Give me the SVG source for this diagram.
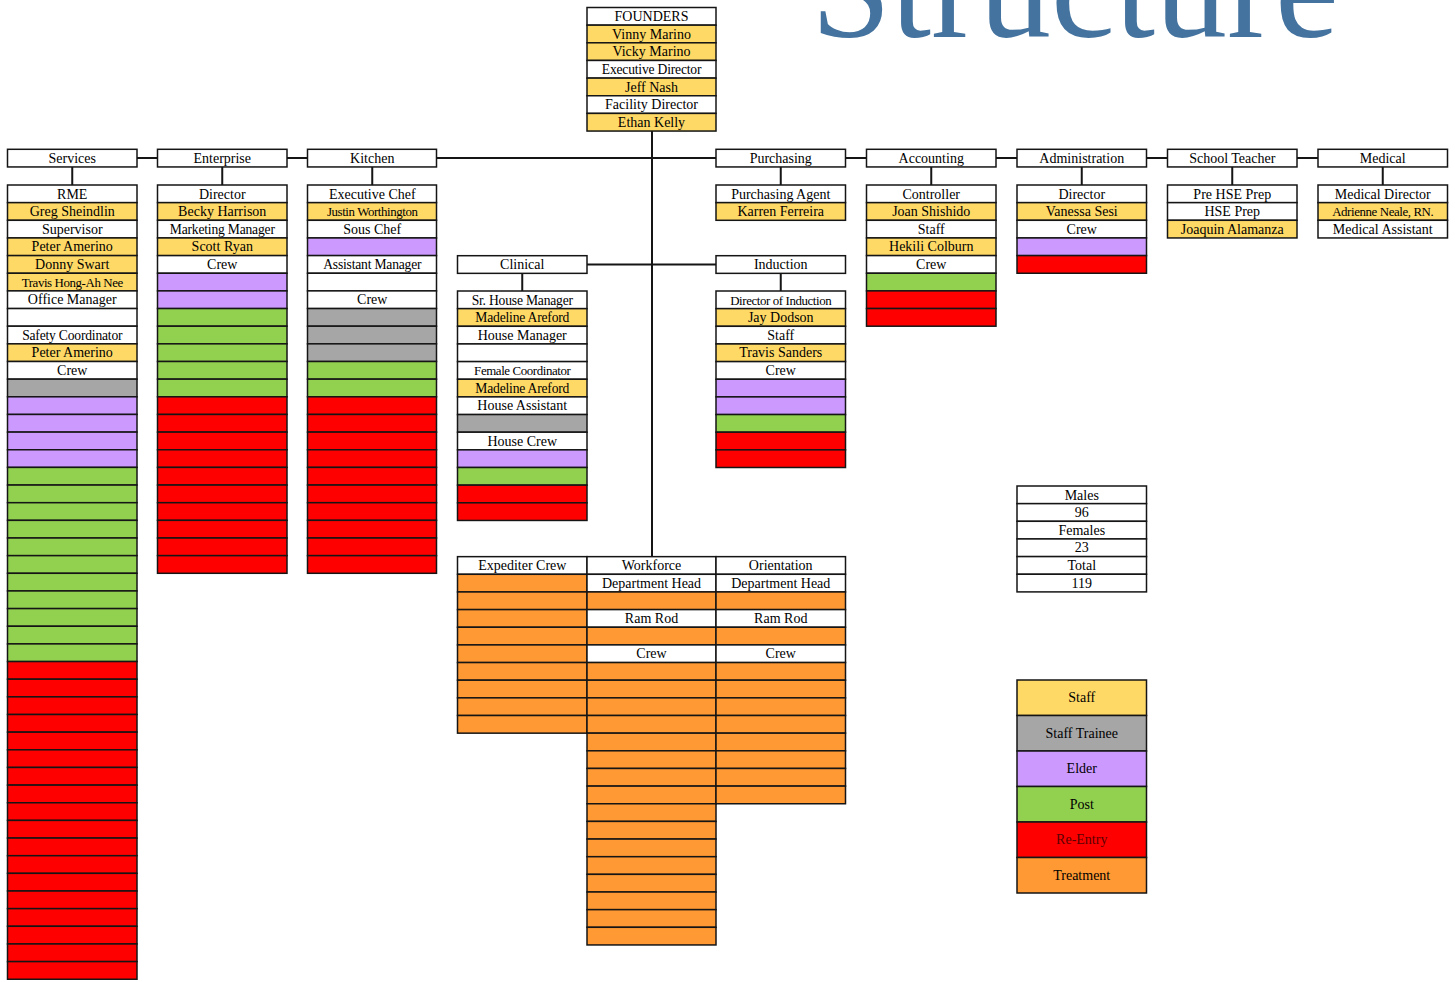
<svg xmlns="http://www.w3.org/2000/svg" width="1455" height="982" viewBox="0 0 1455 982">
<style>
rect{stroke:#151515;stroke-width:1.5}
.w{fill:#fff}.y{fill:#FFD966}.s{fill:#A6A6A6}.e{fill:#CC99FF}.p{fill:#92D050}.r{fill:#FF0000}.o{fill:#FF9933}
text{font-family:"Liberation Serif","Times New Roman",serif;font-size:14px;text-anchor:middle;fill:#000}
.sm{font-size:12.9px;letter-spacing:-0.4px}.md{font-size:13.6px;letter-spacing:-0.2px}
.ln{stroke:#151515;stroke-width:2;fill:none}
.title{font-size:144px;fill:#44739F;text-anchor:start}
</style>
<text class="title" x="811" y="37">Structure</text>

<g id="connectors">
<path class="ln" d="M652 131V557"/>
<path class="ln" d="M436 158H716"/>
<path class="ln" d="M137 158H157.5M287 158H307.5M845 158H866.5M996 158H1017M1146.5 158H1167.5M1297 158H1318"/>
<path class="ln" d="M72.25 167V185M222.25 167V185M372.25 167V185M780.75 167V185M931.25 167V185M1081.75 167V185M1232.25 167V185M1382.75 167V185"/>
<path class="ln" d="M587 264.5H716"/>
<path class="ln" d="M522.25 273.3V291M780.75 273.3V291"/>
</g>

<g id="founders">
<rect class="w" x="587" y="7.5" width="129" height="17.65"/><text x="651.5" y="21">FOUNDERS</text>
<rect class="y" x="587" y="25.15" width="129" height="17.65"/><text x="651.5" y="38.65">Vinny Marino</text>
<rect class="y" x="587" y="42.8" width="129" height="17.65"/><text x="651.5" y="56.3">Vicky Marino</text>
<rect class="w" x="587" y="60.45" width="129" height="17.65"/><text class="md" x="651.5" y="73.95">Executive Director</text>
<rect class="y" x="587" y="78.1" width="129" height="17.65"/><text x="651.5" y="91.6">Jeff Nash</text>
<rect class="w" x="587" y="95.75" width="129" height="17.65"/><text x="651.5" y="109.25">Facility Director</text>
<rect class="y" x="587" y="113.4" width="129" height="17.65"/><text x="651.5" y="126.9">Ethan Kelly</text>
</g>

<g id="services">
<rect class="w" x="7.5" y="149.3" width="129.5" height="17.65"/><text x="72.25" y="162.8">Services</text>
<rect class="w" x="7.5" y="185" width="129.5" height="17.65"/><text x="72.25" y="198.5">RME</text>
<rect class="y" x="7.5" y="202.65" width="129.5" height="17.65"/><text x="72.25" y="216.15">Greg Sheindlin</text>
<rect class="w" x="7.5" y="220.3" width="129.5" height="17.65"/><text x="72.25" y="233.8">Supervisor</text>
<rect class="y" x="7.5" y="237.95" width="129.5" height="17.65"/><text x="72.25" y="251.45">Peter Amerino</text>
<rect class="y" x="7.5" y="255.6" width="129.5" height="17.65"/><text x="72.25" y="269.1">Donny Swart</text>
<rect class="y" x="7.5" y="273.25" width="129.5" height="17.65"/><text class="sm" x="72.25" y="286.75">Travis Hong-Ah Nee</text>
<rect class="w" x="7.5" y="290.9" width="129.5" height="17.65"/><text x="72.25" y="304.4">Office Manager</text>
<rect class="w" x="7.5" y="308.55" width="129.5" height="17.65"/>
<rect class="w" x="7.5" y="326.2" width="129.5" height="17.65"/><text class="md" x="72.25" y="339.7">Safety Coordinator</text>
<rect class="y" x="7.5" y="343.85" width="129.5" height="17.65"/><text x="72.25" y="357.35">Peter Amerino</text>
<rect class="w" x="7.5" y="361.5" width="129.5" height="17.65"/><text x="72.25" y="375">Crew</text>
<rect class="s" x="7.5" y="379.15" width="129.5" height="17.65"/>
<rect class="e" x="7.5" y="396.8" width="129.5" height="17.65"/>
<rect class="e" x="7.5" y="414.45" width="129.5" height="17.65"/>
<rect class="e" x="7.5" y="432.1" width="129.5" height="17.65"/>
<rect class="e" x="7.5" y="449.75" width="129.5" height="17.65"/>
<rect class="p" x="7.5" y="467.4" width="129.5" height="17.65"/>
<rect class="p" x="7.5" y="485.05" width="129.5" height="17.65"/>
<rect class="p" x="7.5" y="502.7" width="129.5" height="17.65"/>
<rect class="p" x="7.5" y="520.35" width="129.5" height="17.65"/>
<rect class="p" x="7.5" y="538" width="129.5" height="17.65"/>
<rect class="p" x="7.5" y="555.65" width="129.5" height="17.65"/>
<rect class="p" x="7.5" y="573.3" width="129.5" height="17.65"/>
<rect class="p" x="7.5" y="590.95" width="129.5" height="17.65"/>
<rect class="p" x="7.5" y="608.6" width="129.5" height="17.65"/>
<rect class="p" x="7.5" y="626.25" width="129.5" height="17.65"/>
<rect class="p" x="7.5" y="643.9" width="129.5" height="17.65"/>
<rect class="r" x="7.5" y="661.55" width="129.5" height="17.65"/>
<rect class="r" x="7.5" y="679.2" width="129.5" height="17.65"/>
<rect class="r" x="7.5" y="696.85" width="129.5" height="17.65"/>
<rect class="r" x="7.5" y="714.5" width="129.5" height="17.65"/>
<rect class="r" x="7.5" y="732.15" width="129.5" height="17.65"/>
<rect class="r" x="7.5" y="749.8" width="129.5" height="17.65"/>
<rect class="r" x="7.5" y="767.45" width="129.5" height="17.65"/>
<rect class="r" x="7.5" y="785.1" width="129.5" height="17.65"/>
<rect class="r" x="7.5" y="802.75" width="129.5" height="17.65"/>
<rect class="r" x="7.5" y="820.4" width="129.5" height="17.65"/>
<rect class="r" x="7.5" y="838.05" width="129.5" height="17.65"/>
<rect class="r" x="7.5" y="855.7" width="129.5" height="17.65"/>
<rect class="r" x="7.5" y="873.35" width="129.5" height="17.65"/>
<rect class="r" x="7.5" y="891" width="129.5" height="17.65"/>
<rect class="r" x="7.5" y="908.65" width="129.5" height="17.65"/>
<rect class="r" x="7.5" y="926.3" width="129.5" height="17.65"/>
<rect class="r" x="7.5" y="943.95" width="129.5" height="17.65"/>
<rect class="r" x="7.5" y="961.6" width="129.5" height="17.65"/>
</g>

<g id="enterprise">
<rect class="w" x="157.5" y="149.3" width="129.5" height="17.65"/><text x="222.25" y="162.8">Enterprise</text>
<rect class="w" x="157.5" y="185" width="129.5" height="17.65"/><text x="222.25" y="198.5">Director</text>
<rect class="y" x="157.5" y="202.65" width="129.5" height="17.65"/><text x="222.25" y="216.15">Becky Harrison</text>
<rect class="w" x="157.5" y="220.3" width="129.5" height="17.65"/><text class="md" x="222.25" y="233.8">Marketing Manager</text>
<rect class="y" x="157.5" y="237.95" width="129.5" height="17.65"/><text x="222.25" y="251.45">Scott Ryan</text>
<rect class="w" x="157.5" y="255.6" width="129.5" height="17.65"/><text x="222.25" y="269.1">Crew</text>
<rect class="e" x="157.5" y="273.25" width="129.5" height="17.65"/>
<rect class="e" x="157.5" y="290.9" width="129.5" height="17.65"/>
<rect class="p" x="157.5" y="308.55" width="129.5" height="17.65"/>
<rect class="p" x="157.5" y="326.2" width="129.5" height="17.65"/>
<rect class="p" x="157.5" y="343.85" width="129.5" height="17.65"/>
<rect class="p" x="157.5" y="361.5" width="129.5" height="17.65"/>
<rect class="p" x="157.5" y="379.15" width="129.5" height="17.65"/>
<rect class="r" x="157.5" y="396.8" width="129.5" height="17.65"/>
<rect class="r" x="157.5" y="414.45" width="129.5" height="17.65"/>
<rect class="r" x="157.5" y="432.1" width="129.5" height="17.65"/>
<rect class="r" x="157.5" y="449.75" width="129.5" height="17.65"/>
<rect class="r" x="157.5" y="467.4" width="129.5" height="17.65"/>
<rect class="r" x="157.5" y="485.05" width="129.5" height="17.65"/>
<rect class="r" x="157.5" y="502.7" width="129.5" height="17.65"/>
<rect class="r" x="157.5" y="520.35" width="129.5" height="17.65"/>
<rect class="r" x="157.5" y="538" width="129.5" height="17.65"/>
<rect class="r" x="157.5" y="555.65" width="129.5" height="17.65"/>
</g>

<g id="kitchen">
<rect class="w" x="307.5" y="149.3" width="129" height="17.65"/><text x="372.25" y="162.8">Kitchen</text>
<rect class="w" x="307.5" y="185" width="129" height="17.65"/><text x="372.25" y="198.5">Executive Chef</text>
<rect class="y" x="307.5" y="202.65" width="129" height="17.65"/><text class="sm" x="372.25" y="216.15">Justin Worthington</text>
<rect class="w" x="307.5" y="220.3" width="129" height="17.65"/><text x="372.25" y="233.8">Sous Chef</text>
<rect class="e" x="307.5" y="237.95" width="129" height="17.65"/>
<rect class="w" x="307.5" y="255.6" width="129" height="17.65"/><text class="md" x="372.25" y="269.1">Assistant Manager</text>
<rect class="w" x="307.5" y="273.25" width="129" height="17.65"/>
<rect class="w" x="307.5" y="290.9" width="129" height="17.65"/><text x="372.25" y="304.4">Crew</text>
<rect class="s" x="307.5" y="308.55" width="129" height="17.65"/>
<rect class="s" x="307.5" y="326.2" width="129" height="17.65"/>
<rect class="s" x="307.5" y="343.85" width="129" height="17.65"/>
<rect class="p" x="307.5" y="361.5" width="129" height="17.65"/>
<rect class="p" x="307.5" y="379.15" width="129" height="17.65"/>
<rect class="r" x="307.5" y="396.8" width="129" height="17.65"/>
<rect class="r" x="307.5" y="414.45" width="129" height="17.65"/>
<rect class="r" x="307.5" y="432.1" width="129" height="17.65"/>
<rect class="r" x="307.5" y="449.75" width="129" height="17.65"/>
<rect class="r" x="307.5" y="467.4" width="129" height="17.65"/>
<rect class="r" x="307.5" y="485.05" width="129" height="17.65"/>
<rect class="r" x="307.5" y="502.7" width="129" height="17.65"/>
<rect class="r" x="307.5" y="520.35" width="129" height="17.65"/>
<rect class="r" x="307.5" y="538" width="129" height="17.65"/>
<rect class="r" x="307.5" y="555.65" width="129" height="17.65"/>
</g>

<g id="purchasing">
<rect class="w" x="716" y="149.3" width="129.5" height="17.65"/><text x="780.75" y="162.8">Purchasing</text>
<rect class="w" x="716" y="185" width="129.5" height="17.65"/><text x="780.75" y="198.5">Purchasing Agent</text>
<rect class="y" x="716" y="202.65" width="129.5" height="17.65"/><text x="780.75" y="216.15">Karren Ferreira</text>
</g>

<g id="accounting">
<rect class="w" x="866.5" y="149.3" width="129.5" height="17.65"/><text x="931.25" y="162.8">Accounting</text>
<rect class="w" x="866.5" y="185" width="129.5" height="17.65"/><text x="931.25" y="198.5">Controller</text>
<rect class="y" x="866.5" y="202.65" width="129.5" height="17.65"/><text x="931.25" y="216.15">Joan Shishido</text>
<rect class="w" x="866.5" y="220.3" width="129.5" height="17.65"/><text x="931.25" y="233.8">Staff</text>
<rect class="y" x="866.5" y="237.95" width="129.5" height="17.65"/><text x="931.25" y="251.45">Hekili Colburn</text>
<rect class="w" x="866.5" y="255.6" width="129.5" height="17.65"/><text x="931.25" y="269.1">Crew</text>
<rect class="p" x="866.5" y="273.25" width="129.5" height="17.65"/>
<rect class="r" x="866.5" y="290.9" width="129.5" height="17.65"/>
<rect class="r" x="866.5" y="308.55" width="129.5" height="17.65"/>
</g>

<g id="administration">
<rect class="w" x="1017" y="149.3" width="129.5" height="17.65"/><text x="1081.75" y="162.8">Administration</text>
<rect class="w" x="1017" y="185" width="129.5" height="17.65"/><text x="1081.75" y="198.5">Director</text>
<rect class="y" x="1017" y="202.65" width="129.5" height="17.65"/><text x="1081.75" y="216.15">Vanessa Sesi</text>
<rect class="w" x="1017" y="220.3" width="129.5" height="17.65"/><text x="1081.75" y="233.8">Crew</text>
<rect class="e" x="1017" y="237.95" width="129.5" height="17.65"/>
<rect class="r" x="1017" y="255.6" width="129.5" height="17.65"/>
</g>

<g id="school-teacher">
<rect class="w" x="1167.5" y="149.3" width="129.5" height="17.65"/><text x="1232.25" y="162.8">School Teacher</text>
<rect class="w" x="1167.5" y="185" width="129.5" height="17.65"/><text x="1232.25" y="198.5">Pre HSE Prep</text>
<rect class="w" x="1167.5" y="202.65" width="129.5" height="17.65"/><text x="1232.25" y="216.15">HSE Prep</text>
<rect class="y" x="1167.5" y="220.3" width="129.5" height="17.65"/><text x="1232.25" y="233.8">Joaquin Alamanza</text>
</g>

<g id="medical">
<rect class="w" x="1318" y="149.3" width="129.5" height="17.65"/><text x="1382.75" y="162.8">Medical</text>
<rect class="w" x="1318" y="185" width="129.5" height="17.65"/><text x="1382.75" y="198.5">Medical Director</text>
<rect class="y" x="1318" y="202.65" width="129.5" height="17.65"/><text class="sm" x="1382.75" y="216.15">Adrienne Neale, RN.</text>
<rect class="w" x="1318" y="220.3" width="129.5" height="17.65"/><text x="1382.75" y="233.8">Medical Assistant</text>
</g>

<g id="clinical">
<rect class="w" x="457.5" y="255.7" width="129.5" height="17.65"/><text x="522.25" y="269.2">Clinical</text>
<rect class="w" x="457.5" y="291" width="129.5" height="17.65"/><text class="md" x="522.25" y="304.5">Sr. House Manager</text>
<rect class="y" x="457.5" y="308.65" width="129.5" height="17.65"/><text class="md" x="522.25" y="322.15">Madeline Areford</text>
<rect class="w" x="457.5" y="326.3" width="129.5" height="17.65"/><text x="522.25" y="339.8">House Manager</text>
<rect class="w" x="457.5" y="343.95" width="129.5" height="17.65"/>
<rect class="w" x="457.5" y="361.6" width="129.5" height="17.65"/><text class="sm" x="522.25" y="375.1">Female Coordinator</text>
<rect class="y" x="457.5" y="379.25" width="129.5" height="17.65"/><text class="md" x="522.25" y="392.75">Madeline Areford</text>
<rect class="w" x="457.5" y="396.9" width="129.5" height="17.65"/><text x="522.25" y="410.4">House Assistant</text>
<rect class="s" x="457.5" y="414.55" width="129.5" height="17.65"/>
<rect class="w" x="457.5" y="432.2" width="129.5" height="17.65"/><text x="522.25" y="445.7">House Crew</text>
<rect class="e" x="457.5" y="449.85" width="129.5" height="17.65"/>
<rect class="p" x="457.5" y="467.5" width="129.5" height="17.65"/>
<rect class="r" x="457.5" y="485.15" width="129.5" height="17.65"/>
<rect class="r" x="457.5" y="502.8" width="129.5" height="17.65"/>
</g>

<g id="induction">
<rect class="w" x="716" y="255.7" width="129.5" height="17.65"/><text x="780.75" y="269.2">Induction</text>
<rect class="w" x="716" y="291" width="129.5" height="17.65"/><text class="sm" x="780.75" y="304.5">Director of Induction</text>
<rect class="y" x="716" y="308.65" width="129.5" height="17.65"/><text x="780.75" y="322.15">Jay Dodson</text>
<rect class="w" x="716" y="326.3" width="129.5" height="17.65"/><text x="780.75" y="339.8">Staff</text>
<rect class="y" x="716" y="343.95" width="129.5" height="17.65"/><text x="780.75" y="357.45">Travis Sanders</text>
<rect class="w" x="716" y="361.6" width="129.5" height="17.65"/><text x="780.75" y="375.1">Crew</text>
<rect class="e" x="716" y="379.25" width="129.5" height="17.65"/>
<rect class="e" x="716" y="396.9" width="129.5" height="17.65"/>
<rect class="p" x="716" y="414.55" width="129.5" height="17.65"/>
<rect class="r" x="716" y="432.2" width="129.5" height="17.65"/>
<rect class="r" x="716" y="449.85" width="129.5" height="17.65"/>
</g>

<g id="expediter-crew">
<rect class="w" x="457.5" y="556.65" width="129.5" height="17.65"/><text x="522.25" y="570.15">Expediter Crew</text>
<rect class="o" x="457.5" y="574.3" width="129.5" height="17.65"/>
<rect class="o" x="457.5" y="591.95" width="129.5" height="17.65"/>
<rect class="o" x="457.5" y="609.6" width="129.5" height="17.65"/>
<rect class="o" x="457.5" y="627.25" width="129.5" height="17.65"/>
<rect class="o" x="457.5" y="644.9" width="129.5" height="17.65"/>
<rect class="o" x="457.5" y="662.55" width="129.5" height="17.65"/>
<rect class="o" x="457.5" y="680.2" width="129.5" height="17.65"/>
<rect class="o" x="457.5" y="697.85" width="129.5" height="17.65"/>
<rect class="o" x="457.5" y="715.5" width="129.5" height="17.65"/>
</g>

<g id="workforce">
<rect class="w" x="587" y="556.65" width="129" height="17.65"/><text x="651.5" y="570.15">Workforce</text>
<rect class="w" x="587" y="574.3" width="129" height="17.65"/><text x="651.5" y="587.8">Department Head</text>
<rect class="o" x="587" y="591.95" width="129" height="17.65"/>
<rect class="w" x="587" y="609.6" width="129" height="17.65"/><text x="651.5" y="623.1">Ram Rod</text>
<rect class="o" x="587" y="627.25" width="129" height="17.65"/>
<rect class="w" x="587" y="644.9" width="129" height="17.65"/><text x="651.5" y="658.4">Crew</text>
<rect class="o" x="587" y="662.55" width="129" height="17.65"/>
<rect class="o" x="587" y="680.2" width="129" height="17.65"/>
<rect class="o" x="587" y="697.85" width="129" height="17.65"/>
<rect class="o" x="587" y="715.5" width="129" height="17.65"/>
<rect class="o" x="587" y="733.15" width="129" height="17.65"/>
<rect class="o" x="587" y="750.8" width="129" height="17.65"/>
<rect class="o" x="587" y="768.45" width="129" height="17.65"/>
<rect class="o" x="587" y="786.1" width="129" height="17.65"/>
<rect class="o" x="587" y="803.75" width="129" height="17.65"/>
<rect class="o" x="587" y="821.4" width="129" height="17.65"/>
<rect class="o" x="587" y="839.05" width="129" height="17.65"/>
<rect class="o" x="587" y="856.7" width="129" height="17.65"/>
<rect class="o" x="587" y="874.35" width="129" height="17.65"/>
<rect class="o" x="587" y="892" width="129" height="17.65"/>
<rect class="o" x="587" y="909.65" width="129" height="17.65"/>
<rect class="o" x="587" y="927.3" width="129" height="17.65"/>
</g>

<g id="orientation">
<rect class="w" x="716" y="556.65" width="129.5" height="17.65"/><text x="780.75" y="570.15">Orientation</text>
<rect class="w" x="716" y="574.3" width="129.5" height="17.65"/><text x="780.75" y="587.8">Department Head</text>
<rect class="o" x="716" y="591.95" width="129.5" height="17.65"/>
<rect class="w" x="716" y="609.6" width="129.5" height="17.65"/><text x="780.75" y="623.1">Ram Rod</text>
<rect class="o" x="716" y="627.25" width="129.5" height="17.65"/>
<rect class="w" x="716" y="644.9" width="129.5" height="17.65"/><text x="780.75" y="658.4">Crew</text>
<rect class="o" x="716" y="662.55" width="129.5" height="17.65"/>
<rect class="o" x="716" y="680.2" width="129.5" height="17.65"/>
<rect class="o" x="716" y="697.85" width="129.5" height="17.65"/>
<rect class="o" x="716" y="715.5" width="129.5" height="17.65"/>
<rect class="o" x="716" y="733.15" width="129.5" height="17.65"/>
<rect class="o" x="716" y="750.8" width="129.5" height="17.65"/>
<rect class="o" x="716" y="768.45" width="129.5" height="17.65"/>
<rect class="o" x="716" y="786.1" width="129.5" height="17.65"/>
</g>

<g id="totals">
<rect class="w" x="1017" y="486" width="129.5" height="17.65"/><text x="1081.75" y="499.5">Males</text>
<rect class="w" x="1017" y="503.65" width="129.5" height="17.65"/><text x="1081.75" y="517.15">96</text>
<rect class="w" x="1017" y="521.3" width="129.5" height="17.65"/><text x="1081.75" y="534.8">Females</text>
<rect class="w" x="1017" y="538.95" width="129.5" height="17.65"/><text x="1081.75" y="552.45">23</text>
<rect class="w" x="1017" y="556.6" width="129.5" height="17.65"/><text x="1081.75" y="570.1">Total</text>
<rect class="w" x="1017" y="574.25" width="129.5" height="17.65"/><text x="1081.75" y="587.75">119</text>
</g>

<g id="legend">
<rect class="y" x="1017" y="680" width="129.5" height="35.5"/><text x="1081.75" y="702">Staff</text>
<rect class="s" x="1017" y="715.5" width="129.5" height="35.5"/><text x="1081.75" y="737.5">Staff Trainee</text>
<rect class="e" x="1017" y="751" width="129.5" height="35.5"/><text x="1081.75" y="773">Elder</text>
<rect class="p" x="1017" y="786.5" width="129.5" height="35.5"/><text x="1081.75" y="808.5">Post</text>
<rect class="r" x="1017" y="822" width="129.5" height="35.5"/><text x="1081.75" y="844" style="fill:#5a0000">Re-Entry</text>
<rect class="o" x="1017" y="857.5" width="129.5" height="35.5"/><text x="1081.75" y="879.5">Treatment</text>
</g>
</svg>
